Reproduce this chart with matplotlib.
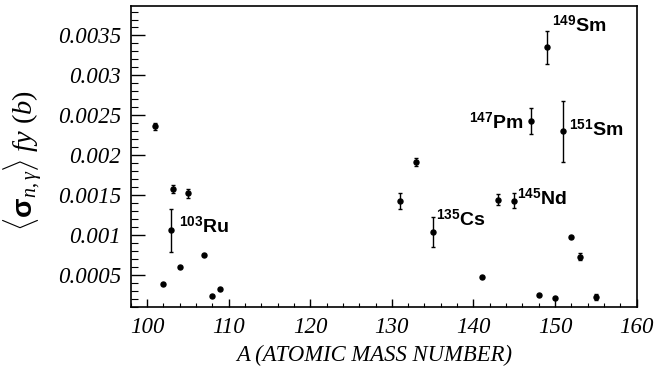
import numpy as np
import matplotlib
matplotlib.use('Agg')
import matplotlib.pyplot as plt
from matplotlib.ticker import MultipleLocator, FormatStrFormatter

# mass number, <sigma_n,gamma> * fission yield (b), error
mass_number = [101, 102, 102.9, 103.2, 104, 105, 107, 108, 109,
               131, 133, 135, 141, 143, 145, 147, 148, 149, 150, 151, 152, 153, 155]
xs_value = [0.00236, 0.00039, 0.00106, 0.00158, 0.00060, 0.00152, 0.00075, 0.00024, 0.00032,
            0.00142, 0.00192, 0.00104, 0.00047, 0.00144, 0.00143, 0.00243, 0.00025, 0.00335,
            0.00021, 0.00230, 0.00097, 0.00073, 0.00022]
xs_error = [0.00004, 0.0, 0.00027, 0.00005, 0.0, 0.00006, 0.0, 0.0, 0.0,
            0.00010, 0.00005, 0.00019, 0.0, 0.00007, 0.00009, 0.00016, 0.0, 0.00021,
            0.0, 0.00038, 0.0, 0.00004, 0.00004]

# labelled isotopes
iso_a = [102.9, 135, 145, 147, 149, 151]
iso_val = [0.00106, 0.00104, 0.00143, 0.00243, 0.00335, 0.00230]
iso_mass = ['103', '135', '145', '147', '149', '151']
iso_elem = ['Ru', 'Cs', 'Nd', 'Pm', 'Sm', 'Sm']
iso_dx = [8, 3, 3, -7, 5, 6]
iso_dy = [4, 12, 2, -2, 22, 2]
iso_ha = ['left', 'left', 'left', 'right', 'left', 'left']

plt.rcParams['mathtext.fontset'] = 'custom'
plt.rcParams['mathtext.it'] = 'Liberation Serif:italic'
plt.rcParams['mathtext.rm'] = 'Liberation Serif'
plt.rcParams['mathtext.sf'] = 'Liberation Sans:bold'

fig = plt.figure(figsize=(6.57, 3.71), dpi=100)
ax = fig.add_axes([0.199, 0.173, 0.770, 0.811])

ax.errorbar(mass_number, xs_value, yerr=xs_error, fmt='o', color='black',
            markersize=3.6, elinewidth=1.0, capsize=1.5, capthick=1.0)

for a, v, m, e, dx, dy, ha in zip(iso_a, iso_val, iso_mass, iso_elem, iso_dx, iso_dy, iso_ha):
    ax.annotate(r'$^{\mathsf{%s}}$%s' % (m, e), xy=(a, v),
                xytext=(dx * 0.72, dy * 0.72), textcoords='offset points',
                ha=ha, va='center', fontsize=14, fontweight='bold',
                family='Liberation Sans')

ax.set_xlim(98, 160)
ax.set_ylim(0.0001, 0.00387)
ax.xaxis.set_major_locator(MultipleLocator(10))
ax.xaxis.set_minor_locator(MultipleLocator(2))
ax.yaxis.set_major_locator(MultipleLocator(0.0005))
ax.yaxis.set_minor_locator(MultipleLocator(0.0001))
ax.yaxis.set_major_formatter(FormatStrFormatter('%g'))

ax.tick_params(which='both', direction='in', top=False, right=False)
ax.tick_params(axis='y', which='major', length=10, width=1.0, pad=7)
ax.tick_params(axis='y', which='minor', length=5, width=0.8)
ax.tick_params(axis='x', which='major', length=6, width=1.0, pad=7)
ax.tick_params(axis='x', which='minor', length=3, width=0.8)
for lbl in ax.get_xticklabels() + ax.get_yticklabels():
    lbl.set_family('Liberation Serif')
    lbl.set_style('italic')
    lbl.set_fontsize(16.5)
for sp in ax.spines.values():
    sp.set_linewidth(1.2)

ax.set_xlabel('A (ATOMIC MASS NUMBER)', family='Liberation Serif', style='italic',
              fontsize=16.3)
ax.xaxis.set_label_coords(0.482, -0.128)
ax.set_ylabel(r'$\langle\mathsf{\sigma}_{n,\gamma}\rangle\ fy\ (b)$', fontsize=20.5)
ax.yaxis.set_label_coords(-0.170, 0.488)

fig.savefig('out.png', dpi=100)
